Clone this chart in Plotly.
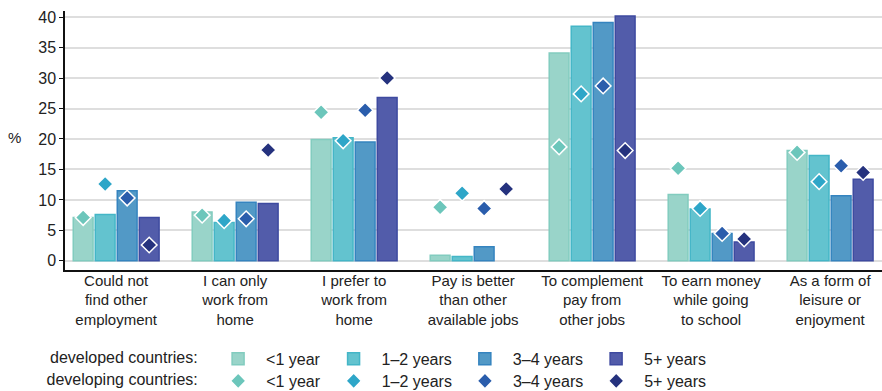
import plotly.graph_objects as go

# Reasons for doing crowdwork, by years of experience
categories = [
    "Could not<br>find other<br>employment",
    "I can only<br>work from<br>home",
    "I prefer to<br>work from<br>home",
    "Pay is better<br>than other<br>available jobs",
    "To complement<br>pay from<br>other jobs",
    "To earn money<br>while going<br>to school",
    "As a form of<br>leisure or<br>enjoyment",
]
groups = ["<1 year", "1–2 years", "3–4 years", "5+ years"]

# Developed countries (bars), %
dev_lt1 = [7.1, 8.0, 19.9, 0.9, 34.1, 10.9, 18.1]
dev_1_2 = [7.6, 6.3, 20.2, 0.7, 38.5, 8.5, 17.3]
dev_3_4 = [11.5, 9.6, 19.5, 2.3, 39.1, 4.5, 10.7]
dev_5p = [7.1, 9.4, 26.8, None, 40.2, 3.1, 13.4]

# Developing countries (diamonds), %
dvg_lt1 = [7.1, 7.5, 24.4, 8.8, 18.7, 15.2, 17.8]
dvg_1_2 = [12.6, 6.6, 19.7, 11.1, 27.4, 8.6, 13.0]
dvg_3_4 = [10.3, 6.9, 24.7, 8.6, 28.7, 4.5, 15.6]
dvg_5p = [2.6, 18.2, 30.0, 11.8, 18.1, 3.6, 14.5]

dev_series = [dev_lt1, dev_1_2, dev_3_4, dev_5p]
dvg_series = [dvg_lt1, dvg_1_2, dvg_3_4, dvg_5p]

bar_fill = ["#99D4C9", "#63C3CF", "#5299C6", "#525CAA"]
bar_edge = ["#82CCBF", "#44B6C7", "#3584BF", "#3E4AA0"]
dot_color = ["#6CC6BB", "#2EA6C8", "#2A5DAC", "#25327E"]

BARGAP = 0.26
slot = (1 - BARGAP) / len(groups)
xpos = list(range(len(categories)))

fig = go.Figure()

for k, (name, vals) in enumerate(zip(groups, dev_series)):
    fig.add_trace(go.Bar(
        x=xpos, y=vals, name=name,
        marker=dict(color=bar_fill[k], line=dict(color=bar_edge[k], width=1.5)),
        legend="legend",
    ))

# diamonds sit on the centre of the matching bar slot
for k, (name, vals) in enumerate(zip(groups, dvg_series)):
    offset = (k - (len(groups) - 1) / 2) * slot
    fig.add_trace(go.Scatter(
        x=[i + offset for i in xpos], y=vals, name=name, mode="markers",
        marker=dict(symbol="diamond", size=12, color=dot_color[k],
                    line=dict(color="white", width=1.5)),
        legend="legend2",
    ))

FONT = "Liberation Sans, Arial, sans-serif"
TXT = "#222222"

legend_common = dict(
    orientation="h", xref="container", yref="container", yanchor="middle",
    xanchor="left", itemwidth=46, bgcolor="rgba(0,0,0,0)",
    font=dict(size=16, color=TXT),
)

fig.update_layout(
    width=882, height=391,
    margin=dict(l=65, r=0, t=11, b=121),
    paper_bgcolor="white", plot_bgcolor="white",
    barmode="group", bargap=BARGAP, bargroupgap=0.1,
    font=dict(family=FONT, size=15, color=TXT),
    xaxis=dict(
        range=[-0.43, 6.436], tickvals=xpos, ticktext=categories,
        showgrid=False, zeroline=False, showline=True,
        linecolor="#111111", linewidth=1.5, ticks="",
        ticklabelstandoff=-4,
        tickfont=dict(size=15, color=TXT),
    ),
    yaxis=dict(
        range=[-1.5, 41], tickvals=[0, 5, 10, 15, 20, 25, 30, 35, 40],
        showgrid=True, gridcolor="#DEDEDE", gridwidth=1.5, zeroline=False,
        showline=True, linecolor="#111111", linewidth=1.5,
        ticks="outside", ticklen=4, tickcolor="#111111",
        tickfont=dict(size=16, color=TXT),
    ),
    legend=dict(
        legend_common, x=0.0544, y=0.082,
        title=dict(text="developed countries: ", side="left",
                   font=dict(size=16, color=TXT)),
    ),
    legend2=dict(
        legend_common, x=0.0505, y=0.0256,
        title=dict(text="developing countries: ", side="left",
                   font=dict(size=16, color=TXT)),
    ),
    annotations=[dict(
        text="%", xref="paper", yref="paper", x=-0.0624, y=0.51,
        xanchor="center", yanchor="middle",
        showarrow=False, font=dict(size=15, color=TXT),
    )],
)

fig.write_html("out.html")
